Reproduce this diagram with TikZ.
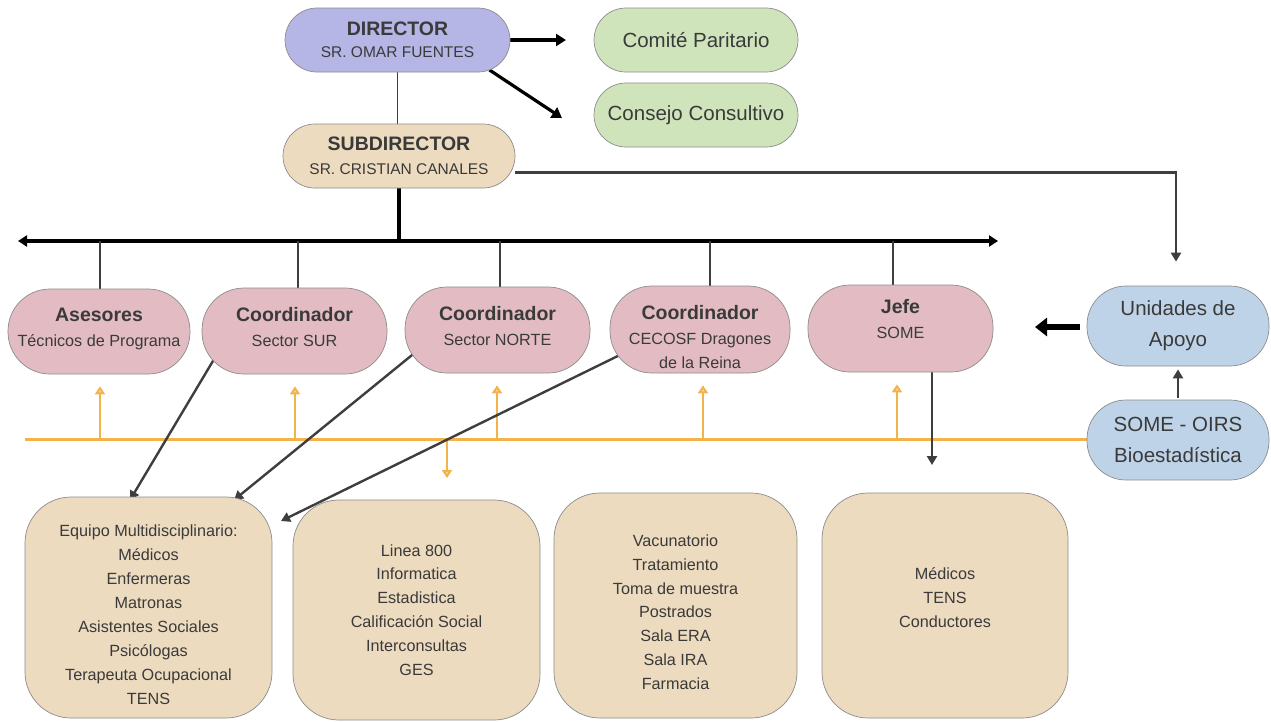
\documentclass[tikz,border=0pt]{standalone}
\usepackage{fontspec}
\setmainfont{Liberation Sans}
\usetikzlibrary{arrows.meta,calc,backgrounds}

\definecolor{txt}{HTML}{3A3A3A}
\definecolor{edge}{HTML}{8C8C8C}
\definecolor{dirc}{HTML}{B5B6E6}
\definecolor{grn}{HTML}{D0E4BC}
\definecolor{tan}{HTML}{EDDBBF}
\definecolor{pnk}{HTML}{E3BCC3}
\definecolor{blu}{HTML}{BED3E8}
\definecolor{ora}{HTML}{F3B24A}
\definecolor{dline}{HTML}{3E3E3E}

\newcommand{\ttl}[1]{{\fontsize{19.5}{24}\selectfont\bfseries #1}}
% a tall invisible strut on the first line lowers the text block inside a box
\newcommand{\pushdown}[1]{\rule{0pt}{#1}}

\begin{document}
\begin{tikzpicture}[x=1pt,y=-1pt,
  box/.style={draw=edge, line width=0.7pt, inner sep=0pt, align=center, text=txt},
  pill/.style={box, rounded corners=#1},
  heavy/.style={line width=3.2pt, black, -{Triangle[length=10pt,width=12pt]}},
  bus/.style={line width=3.2pt, black},
  drop/.style={line width=2.4pt, dline},
  thinl/.style={line width=1.1pt, dline},
  garrow/.style={line width=2.4pt, dline, -{Triangle[length=9pt,width=10pt]}},
  oline/.style={line width=3pt, ora},
  oarrow/.style={line width=2.2pt, ora, -{Triangle[length=8pt,width=10pt,fill=ora!45]}},
  fat/.style={line width=6.5pt, black, -{Triangle[length=12pt,width=18pt]}},
  subtxt/.style={font=\fontsize{16.2}{25}\selectfont},
  bigtxt/.style={font=\fontsize{20.5}{31}\selectfont},
  listtxt/.style={font=\fontsize{16.2}{23.9}\selectfont}]

\useasboundingbox (0,0) rectangle (1271,721);

% top level
\node[pill=32pt, fill=dirc, minimum width=225pt, minimum height=64pt,
      font=\fontsize{15.5}{22}\selectfont] (dir) at (397.5,40)
  {\ttl{DIRECTOR}\\SR. OMAR FUENTES};
\node[pill=32pt, fill=grn, minimum width=204pt, minimum height=64pt, bigtxt] (com) at (696,40) {Comité Paritario};
\node[pill=32pt, fill=grn, minimum width=204pt, minimum height=64pt, bigtxt] (con) at (696,115) {Consejo Consultivo};
\node[pill=32pt, fill=tan, minimum width=232pt, minimum height=64pt,
      font=\fontsize{15.5}{24}\selectfont] (sub) at (399,156)
  {\ttl{SUBDIRECTOR}\\SR. CRISTIAN CANALES};

% second level
\node[pill=42pt, fill=pnk, minimum width=182pt, minimum height=85pt, subtxt] (ase) at (99,331.5)
  {\ttl{Asesores}\\Técnicos de Programa\\[-17pt]};
\node[pill=42pt, fill=pnk, minimum width=185pt, minimum height=86pt, subtxt] (sur) at (294.5,331)
  {\ttl{Coordinador}\\Sector SUR\\[-17pt]};
\node[pill=42pt, fill=pnk, minimum width=185pt, minimum height=86pt, subtxt] (nor) at (497.5,330)
  {\ttl{Coordinador}\\Sector NORTE\\[-17pt]};
\node[pill=42pt, fill=pnk, minimum width=180pt, minimum height=87pt,
      font=\fontsize{16.2}{24.5}\selectfont] (cec) at (700,329.5)
  {\pushdown{30pt}\ttl{Coordinador}\\CECOSF Dragones\\de la Reina};
\node[pill=42pt, fill=pnk, minimum width=185pt, minimum height=87pt, subtxt] (jefe) at (900.5,328.5)
  {\ttl{Jefe}\\SOME\\[-5pt]};

% support units
\node[pill=39pt, fill=blu, minimum width=182pt, minimum height=80pt, bigtxt] (uni) at (1178,326)
  {Unidades de\\Apoyo};
\node[pill=39pt, fill=blu, minimum width=182pt, minimum height=80pt, bigtxt] (some) at (1178,440)
  {SOME - OIRS\\Bioestadística};

% staff groups
\node[pill=46pt, fill=tan, minimum width=247pt, minimum height=221pt, listtxt] (b1) at (148.5,607.5)
  {\pushdown{26pt}Equipo Multidisciplinario:\\Médicos\\Enfermeras\\Matronas\\Asistentes Sociales\\Psicólogas\\Terapeuta Ocupacional\\TENS};
\node[pill=46pt, fill=tan, minimum width=247pt, minimum height=220pt, listtxt] (b2) at (416.5,610)
  {Linea 800\\Informatica\\Estadistica\\Calificación Social\\Interconsultas\\GES};
\node[pill=46pt, fill=tan, minimum width=243pt, minimum height=225pt, listtxt] (b3) at (675.5,605.5)
  {\pushdown{25pt}Vacunatorio\\Tratamiento\\Toma de muestra\\Postrados\\Sala ERA\\Sala IRA\\Farmacia};
\node[pill=46pt, fill=tan, minimum width=246pt, minimum height=225pt, listtxt] (b4) at (945,605.5)
  {Médicos\\TENS\\Conductores\\[-7.6pt]};

% free connector ends
\coordinate (comtip) at (566,40);
\coordinate (contip) at (562,118);
\coordinate (busL) at (18,241);
\coordinate (busR) at (998,241);
\coordinate (obusL) at (25,439);
\coordinate (odown) at (447,478);
\coordinate (jefetip) at (932,465);
\coordinate (unitip) at (1035,327);
\coordinate (t1) at (130,500);
\coordinate (t2) at (234,500);
\coordinate (t3) at (281,521);

\begin{scope}[on background layer]
  % director links
  \draw[thinl] (dir.south) -- (dir.south |- sub.north);
  \draw[heavy] (dir.east) -- (comtip);
  \draw[heavy] ($(dir.center)+(92,30)$) -- (contip);

  % subdirector to support units
  \draw[line width=2.4pt, dline, -{Triangle[length=9pt,width=10pt]}, shorten >=24pt]
    (sub.-8) -| ([xshift=-2pt]uni.north);

  % main distribution bus
  \draw[bus] (sub.south) -- (sub.south |- busL);
  \draw[bus, {Triangle[length=9pt,width=11pt]}-{Triangle[length=9pt,width=11pt]}] (busL) -- (busR);
  \foreach \n/\dx in {ase/1, sur/3.5, nor/2.5, cec/10, jefe/-7.5}
    \draw[drop] ([xshift=\dx pt]\n.north |- busL) -- ([xshift=\dx pt]\n.north);

  % support bus
  \draw[oline] (obusL) -- (obusL -| some.west);
  \foreach \n/\dx in {ase/1, sur/0.5, nor/-0.5, cec/3, jefe/-3.5}
    \draw[oarrow, shorten >=12pt] ([xshift=\dx pt]\n.south |- obusL) -- ([xshift=\dx pt]\n.south);
  \draw[oarrow] (odown |- obusL) -- (odown);

  % coordinators to staff groups
  \draw[garrow] ($(sur.center)+(-72,14)$) -- (t1);
  \draw[garrow] ($(nor.center)+(-67,10)$) -- (t2);
  \draw[garrow] ($(cec.center)+(-49.5,10.5)$) -- (t3);
  \draw[garrow] (jefe.south -| jefetip) -- (jefetip);

  % support units
  \draw[fat, shorten <=7pt] (uni.west |- unitip) -- (unitip);
  \draw[garrow, shorten <=2pt, shorten >=3pt] (some.north) -- (uni.south);
\end{scope}
\end{tikzpicture}
\end{document}
